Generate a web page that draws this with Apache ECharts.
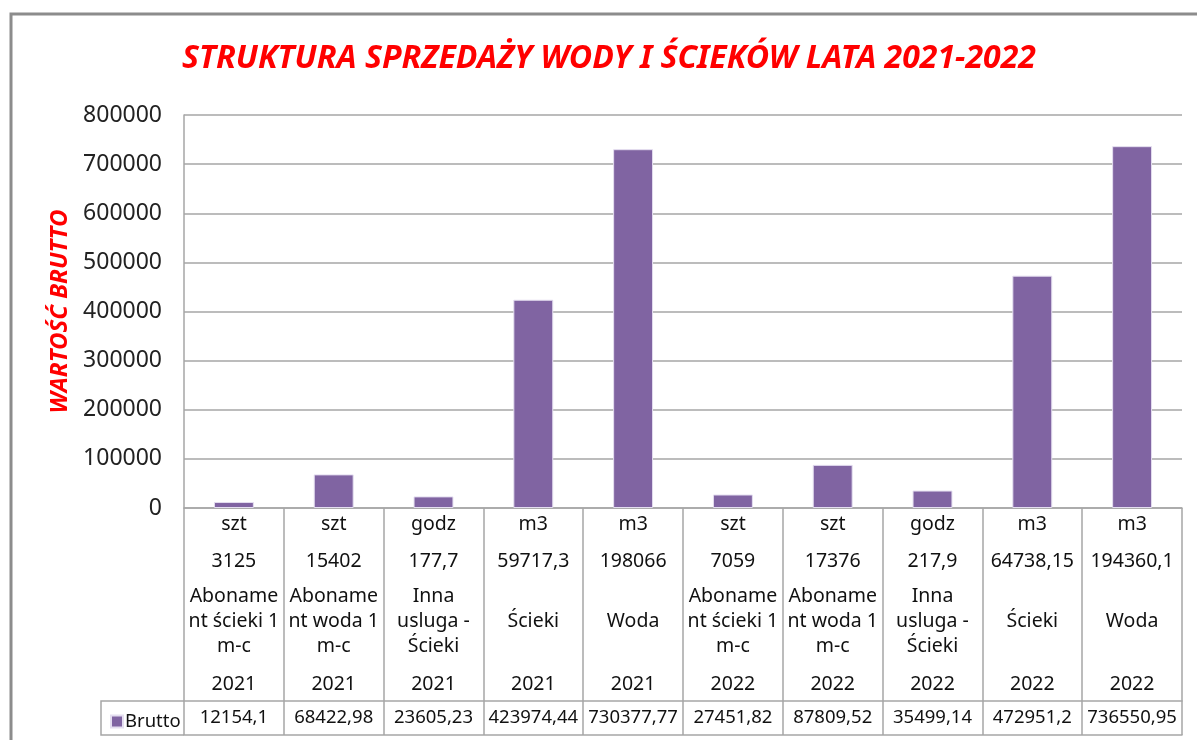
<!DOCTYPE html>
<html>
<head>
<meta charset="utf-8">
<script src="https://cdn.jsdelivr.net/npm/echarts@6/dist/echarts.min.js"></script>
<style>
  html, body { margin: 0; padding: 0; background: #fff; }
  #chart { width: 1197px; height: 740px; }
</style>
</head>
<body>
<div id="chart"></div>
<script>
// table rows under the bars
const units = ['szt', 'szt', 'godz', 'm3', 'm3', 'szt', 'szt', 'godz', 'm3', 'm3'];
const quantities = ['3125', '15402', '177,7', '59717,3', '198066', '7059', '17376', '217,9', '64738,15', '194360,1'];
const names = [
  'Aboname\nnt ścieki 1\nm-c', 'Aboname\nnt woda 1\nm-c', 'Inna\nusluga -\nŚcieki', 'Ścieki', 'Woda',
  'Aboname\nnt ścieki 1\nm-c', 'Aboname\nnt woda 1\nm-c', 'Inna\nusluga -\nŚcieki', 'Ścieki', 'Woda'
];
const years = ['2021', '2021', '2021', '2021', '2021', '2022', '2022', '2022', '2022', '2022'];
const brutto = [12154.1, 68422.98, 23605.23, 423974.44, 730377.77, 27451.82, 87809.52, 35499.14, 472951.2, 736550.95];

const font = "'Noto Sans', sans-serif";
const gridColor = '#a6a6a6';
const txt = '#111';
const fmt = v => String(v).replace('.', ',');

const chart = echarts.init(document.getElementById('chart'));

const cell = (lh) => ({ fontSize: 19.5, lineHeight: lh, color: txt, fontFamily: font });

chart.setOption({
  animation: false,
  title: {
    text: 'STRUKTURA SPRZEDAŻY WODY I ŚCIEKÓW LATA 2021-2022',
    left: 177,
    top: 38,
    textStyle: { color: '#ff0000', fontSize: 32, fontWeight: 'bold', fontStyle: 'italic', fontFamily: font }
  },
  legend: {
    data: ['Brutto'],
    left: 105,
    top: 707,
    icon: 'rect',
    itemWidth: 12,
    itemHeight: 12,
    itemGap: 4,
    textStyle: { fontSize: 18.5, color: txt, fontFamily: font, padding: [0, 0, 0, -3] }
  },
  grid: { left: 184, right: 15, top: 115, bottom: 232, containLabel: false },
  xAxis: [
    {
      type: 'category',
      data: names.map((n, i) => String(i)),
      axisLine: { show: true, lineStyle: { color: gridColor, width: 1.5 } },
      axisTick: { show: true, length: 193, interval: 0, lineStyle: { color: gridColor, width: 1.5 } },
      axisLabel: {
        interval: 0,
        margin: 1,
        formatter: (v, i) => {
          const lines = names[i].split('\n');
          const nm = lines.length === 1 ? '{t1|' + lines[0] + '}' : lines.map(l => '{t|' + l + '}').join('\n');
          return '{u|' + units[i] + '}\n{n|' + quantities[i] + '}\n' + nm + '\n{y|' + years[i] + '}';
        },
        rich: { u: cell(30), n: cell(45), t: cell(25), t1: cell(75), y: cell(50) }
      }
    },
    {
      type: 'category',
      position: 'bottom',
      offset: 193,
      data: brutto.map(fmt),
      axisLine: { show: true, lineStyle: { color: gridColor, width: 1.5 } },
      axisTick: { show: true, length: 34, interval: 0, lineStyle: { color: gridColor, width: 1.5 } },
      axisLabel: { interval: 0, margin: 7, fontSize: 18.5, lineHeight: 20, color: txt, fontFamily: font }
    },
    {
      type: 'category',
      position: 'bottom',
      offset: 227,
      data: brutto.map(fmt),
      axisLine: { show: true, lineStyle: { color: gridColor, width: 1.5 } },
      axisTick: { show: false },
      axisLabel: { show: false }
    }
  ],
  yAxis: {
    type: 'value',
    min: 0,
    max: 800000,
    interval: 100000,
    name: 'WARTOŚĆ BRUTTO',
    nameLocation: 'middle',
    nameRotate: 90,
    nameGap: 110,
    nameTextStyle: { color: '#ff0000', fontSize: 24, fontWeight: 'bold', fontStyle: 'italic', fontFamily: font },
    axisLine: { show: true, lineStyle: { color: gridColor, width: 1.5 } },
    axisTick: { show: false },
    axisLabel: { margin: 22, fontSize: 23, color: '#222', fontFamily: font, formatter: v => String(v) },
    splitLine: { lineStyle: { color: gridColor, width: 1.5 } }
  },
  series: [{
    name: 'Brutto',
    type: 'bar',
    data: brutto,
    barWidth: '40%',
    itemStyle: { color: '#8064a2', borderColor: '#e4def0', borderWidth: 1 }
  }],
  graphic: [
    { type: 'rect', shape: { x: 11, y: 14, width: 1220, height: 800 }, style: { fill: null, stroke: '#8c8c8c', lineWidth: 3 } },
    { type: 'polyline', shape: { points: [[184, 701], [101, 701], [101, 735], [184, 735]] }, style: { fill: null, stroke: gridColor, lineWidth: 1.5 } }
  ]
});
</script>
</body>
</html>
